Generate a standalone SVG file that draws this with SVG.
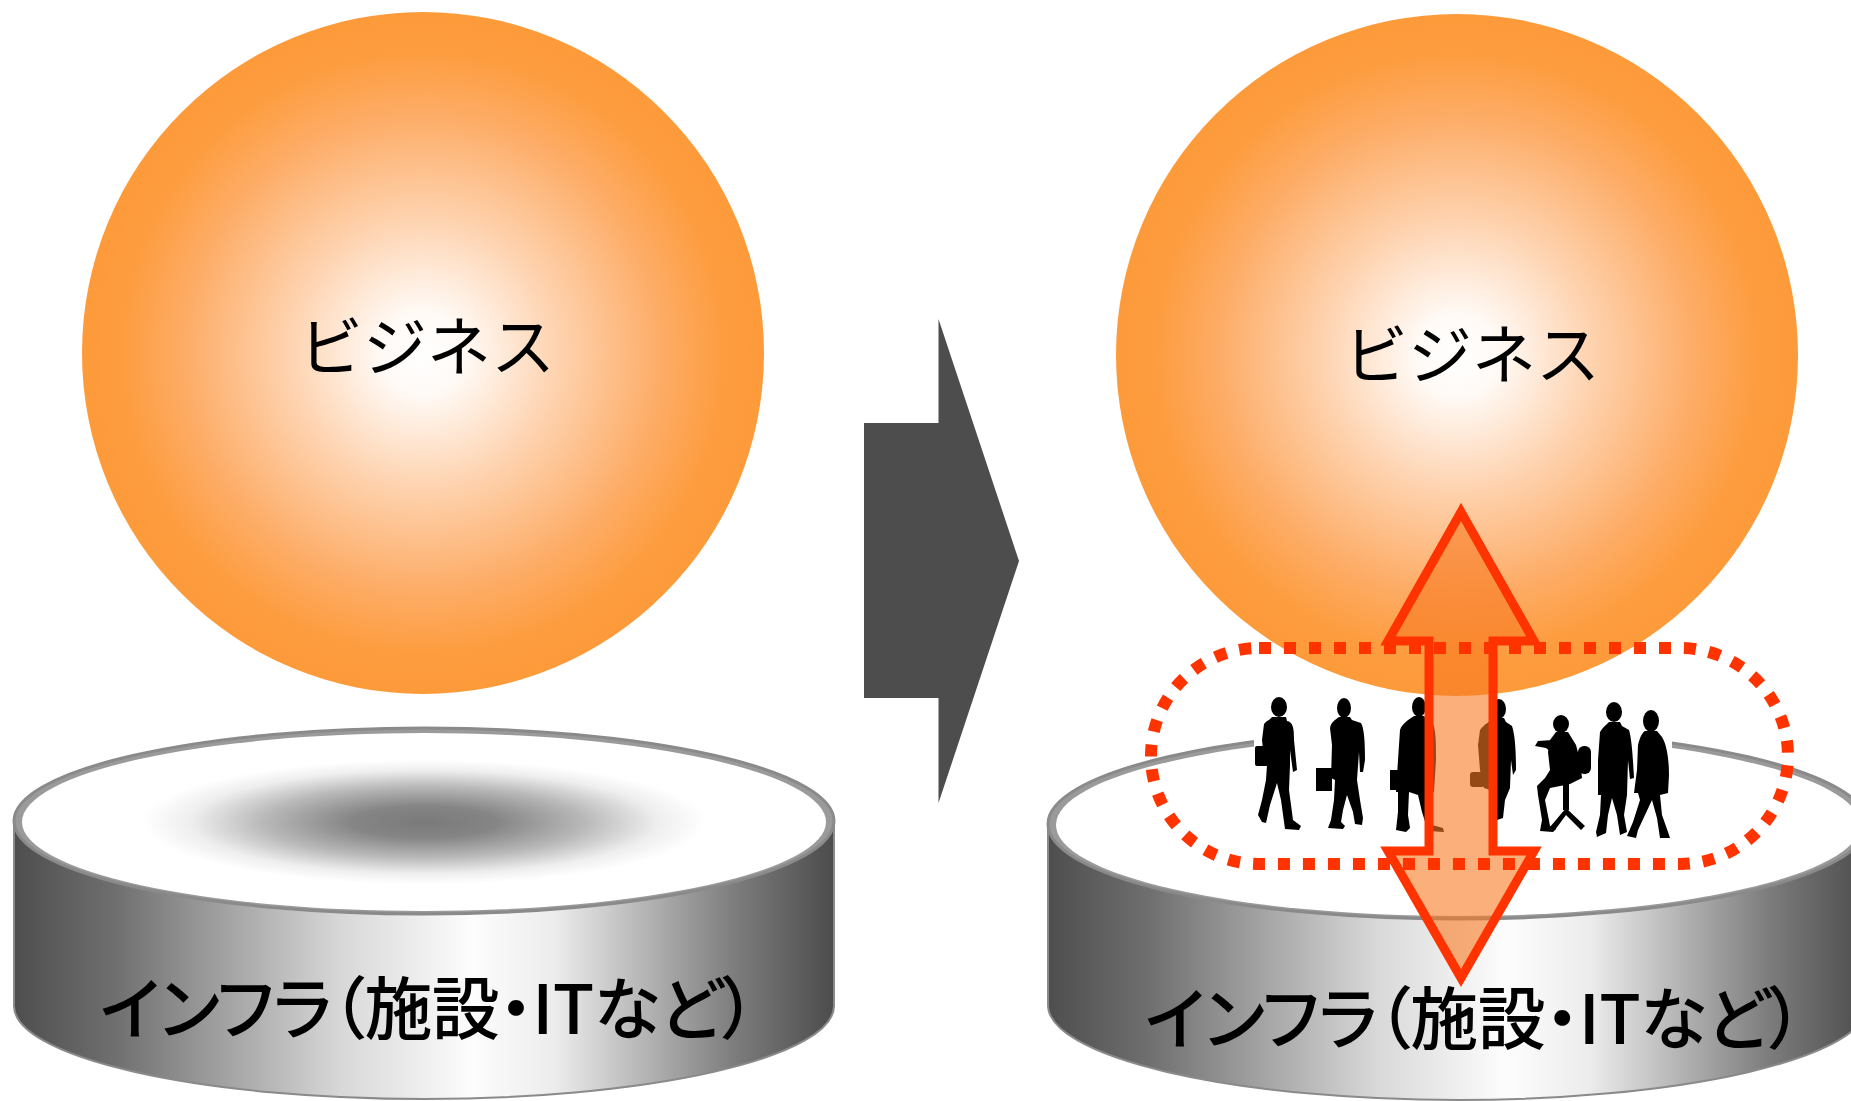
<svg xmlns="http://www.w3.org/2000/svg" width="1851" height="1101" viewBox="0 0 1851 1101">
  <defs>
    <!-- orange ball: white core fading to orange rim -->
    <radialGradient id="ballFill" cx="0.5" cy="0.5" r="0.5">
      <stop offset="0" stop-color="#ffffff"/>
      <stop offset="0.12" stop-color="#fffaf6"/>
      <stop offset="0.4" stop-color="#fed2ae"/>
      <stop offset="0.7" stop-color="#fdac66"/>
      <stop offset="0.88" stop-color="#fd9d40"/>
      <stop offset="1" stop-color="#fd9a3a"/>
    </radialGradient>
    <!-- metallic side of the base -->
    <linearGradient id="sideFill" x1="0" y1="0" x2="1" y2="0">
      <stop offset="0" stop-color="#4e4e4e"/>
      <stop offset="0.12" stop-color="#6e6e6e"/>
      <stop offset="0.4" stop-color="#d8d8d8"/>
      <stop offset="0.56" stop-color="#fdfdfd"/>
      <stop offset="0.66" stop-color="#ececec"/>
      <stop offset="0.88" stop-color="#7c7c7c"/>
      <stop offset="1" stop-color="#4c4c4c"/>
    </linearGradient>
    <!-- shaded top face of the first base -->
    <radialGradient id="topShade" cx="0.5" cy="0.5" r="0.5">
      <stop offset="0" stop-color="#7a7a7a"/>
      <stop offset="0.18" stop-color="#858585"/>
      <stop offset="0.4" stop-color="#b9b9b9"/>
      <stop offset="0.58" stop-color="#eeeeee"/>
      <stop offset="0.7" stop-color="#ffffff"/>
      <stop offset="1" stop-color="#ffffff"/>
    </radialGradient>
    <style>
      .label { font-family: "Noto Sans CJK JP", "Noto Sans", sans-serif; fill: #000000; }
      .ball-label { font-size: 64px; }
      .base-label { font-size: 68px; font-weight: 500; font-feature-settings: "palt" 1; }
      .side { fill: url(#sideFill); stroke: #8a8a8a; stroke-width: 2; }
      .rim { fill: #9a9a9a; stroke: #8a8a8a; stroke-width: 3; }
      .person { fill: #000000; }
    </style>
  </defs>

  <!-- before: business floating above infrastructure -->
  <g id="business-before">
    <circle cx="423" cy="353" r="341" fill="url(#ballFill)"/>
    <text class="label ball-label" x="427" y="370" text-anchor="middle">ビジネス</text>
  </g>

  <g id="infra-before">
    <path class="side" d="M14,821 L14,1006 A410,93 0 0 0 834,1006 L834,821 Z"/>
    <ellipse class="rim" cx="424" cy="821" rx="410" ry="93"/>
    <ellipse cx="424" cy="822" rx="402" ry="89" fill="url(#topShade)"/>
    <text class="label base-label" x="428" y="1034" text-anchor="middle" textLength="656" lengthAdjust="spacing">インフラ（施設・ITなど）</text>
  </g>

  <!-- after: business standing on infrastructure through people -->
  <g id="infra-after">
    <path class="side" d="M1048,824 L1048,1005 A410,95 0 0 0 1868,1005 L1868,824 Z"/>
    <ellipse class="rim" cx="1458" cy="824" rx="410" ry="95"/>
    <ellipse cx="1458" cy="825" rx="402" ry="91" fill="#ffffff"/>
    <text class="label base-label" x="1474" y="1044" text-anchor="middle" textLength="658" lengthAdjust="spacing">インフラ（施設・ITなど）</text>
  </g>

  <g id="business-after">
    <circle cx="1457" cy="355" r="341" fill="url(#ballFill)"/>
    <text class="label ball-label" x="1472" y="378" text-anchor="middle">ビジネス</text>
  </g>

  <g id="people">
    <rect x="1254" y="697" width="418" height="142" fill="#ffffff"/>
    <!-- woman walking with shoulder bag -->
    <ellipse class="person" cx="1279" cy="707" rx="8" ry="10"/>
    <path class="person" d="M1272,717 L1286,717 L1287,721 C1293,722 1294,728 1294,740 L1297,770 L1293,772 L1290,750 L1290,765 L1289,790 L1293,820 L1301,826 L1299,830 L1285,829 L1281,800 L1277,783 L1270,805 L1266,823 L1262,822 L1258,815 L1262,800 L1266,780 L1267,765 L1264,760 L1262,740 L1264,724 C1266,721 1270,720 1272,717 Z"/>
    <rect class="person" x="1255" y="746" width="14" height="20" rx="2"/>
    <!-- man with briefcase -->
    <ellipse class="person" cx="1344" cy="708" rx="7" ry="10"/>
    <path class="person" d="M1339,717 L1350,717 L1352,720 L1361,723 C1364,728 1365,740 1365,760 L1363,772 L1360,772 L1359,752 L1357,780 L1360,800 L1363,818 L1362,825 L1355,824 L1353,812 L1347,795 L1343,810 L1341,822 L1345,826 L1343,829 L1328,828 L1331,820 L1334,800 L1335,780 L1331,778 L1332,745 L1330,728 C1331,722 1335,720 1339,717 Z"/>
    <rect class="person" x="1316" y="768" width="16" height="23"/>
    <!-- man in overcoat -->
    <ellipse class="person" cx="1419" cy="707" rx="7" ry="10"/>
    <path class="person" d="M1414,716 L1424,716 L1427,720 L1433,724 C1436,730 1436,745 1436,760 L1434,792 L1425,792 L1428,810 L1432,825 L1443,828 L1444,832 L1428,831 L1422,812 L1418,795 L1409,792 L1408,815 L1410,828 L1406,832 L1396,830 L1398,812 L1398,792 L1396,792 L1398,760 L1400,730 C1402,724 1408,720 1414,716 Z"/>
    <rect class="person" x="1390" y="770" width="18" height="20"/>
    <!-- man seen from behind -->
    <ellipse class="person" cx="1499" cy="709" rx="7" ry="10"/>
    <path class="person" d="M1494,718 L1504,718 L1506,722 L1512,726 C1515,735 1516,750 1516,770 L1513,775 L1511,760 L1510,788 L1505,800 L1503,818 L1497,820 L1494,800 L1490,790 L1484,788 L1480,770 L1478,745 L1480,730 C1484,724 1490,722 1494,718 Z"/>
    <rect class="person" x="1470" y="772" width="15" height="15" rx="3"/>
    <!-- woman seated on a stool -->
    <ellipse class="person" cx="1561" cy="724" rx="8" ry="9"/>
    <path class="person" d="M1553,740 L1538,741 L1535,746 L1546,748 L1552,753 Z"/>
    <path class="person" d="M1556,732 L1568,732 L1576,745 L1580,760 L1582,778 L1570,784 L1550,788 L1545,800 L1550,826 L1556,829 L1553,832 L1540,831 L1542,820 L1538,795 L1537,786 L1545,778 L1550,770 L1548,752 L1550,740 Z"/>
    <rect class="person" x="1578" y="746" width="13" height="28" rx="6"/>
    <rect class="person" x="1563" y="784" width="6" height="26"/>
    <path class="person" d="M1550,827 L1566,808 L1585,826 L1581,830 L1566,815 L1555,830 Z"/>
    <!-- standing man -->
    <ellipse class="person" cx="1614" cy="712" rx="8" ry="10"/>
    <path class="person" d="M1609,722 L1620,722 L1622,726 L1629,730 C1632,740 1633,760 1634,778 L1630,779 L1628,760 L1627,795 L1624,815 L1627,832 L1620,835 L1617,815 L1612,798 L1608,815 L1606,833 L1597,837 L1596,832 L1600,815 L1601,795 L1598,795 L1598,760 L1600,732 C1603,727 1606,725 1609,722 Z"/>
    <!-- woman in a dress -->
    <ellipse class="person" cx="1651" cy="721" rx="8" ry="11"/>
    <path class="person" d="M1645,731 L1657,731 L1662,737 C1667,745 1669,760 1669,775 L1668,793 L1660,795 L1662,815 L1668,832 L1670,838 L1660,838 L1657,818 L1652,800 L1645,815 L1638,830 L1636,838 L1627,836 L1633,822 L1640,800 L1638,793 L1634,793 L1637,770 L1638,745 C1640,737 1642,733 1645,731 Z"/>
  </g>

  <g id="connectors">
    <!-- transition arrow -->
    <polygon points="864,423 938.5,423 938.5,319 1019,561 938.5,803 938.5,698 864,698" fill="#4d4d4d"/>
    <!-- two-way link between business and infrastructure -->
    <path d="M1461,512 L1534,641 L1493,641 L1493,851 L1534,851 L1461,978 L1388,851 L1429,851 L1429,641 L1388,641 Z" fill="#f97a22" fill-opacity="0.6" stroke="#ff3300" stroke-width="9" stroke-miterlimit="10"/>
  </g>

  <g id="people-group">
    <rect x="1151" y="648" width="637" height="216" rx="108" ry="108" fill="none" stroke="#ff3300" stroke-width="12" stroke-dasharray="12 13"/>
  </g>
</svg>
